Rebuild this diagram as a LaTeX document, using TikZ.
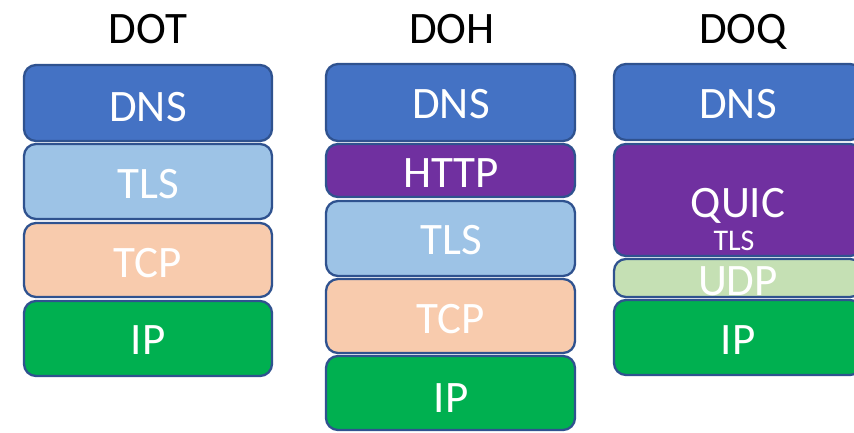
\documentclass[tikz,border=0pt]{standalone}
\usepackage{fontspec}
\setmainfont{Carlito}
\definecolor{edge}{HTML}{2F528F}
\definecolor{dnsfill}{HTML}{4472C4}
\definecolor{tlsfill}{HTML}{9DC3E6}
\definecolor{tcpfill}{HTML}{F8CBAD}
\definecolor{ipfill}{HTML}{00B050}
\definecolor{httpfill}{HTML}{7030A0}
\definecolor{udpfill}{HTML}{C5E0B4}
\begin{document}
\begin{tikzpicture}[x=1pt,y=-1pt,
  layer/.style={draw=edge, line width=2.3pt, rounded corners=12pt},
  lbl/.style={text=white, anchor=base, inner sep=0pt, font=\fontsize{45}{45}\selectfont},
  sublbl/.style={text=white, anchor=base, inner sep=0pt, font=\fontsize{30}{30}\selectfont},
  title/.style={text=black, anchor=base, inner sep=0pt, font=\fontsize{45}{45}\selectfont}]
\useasboundingbox (0,0) rectangle (854,432);
\clip (0,0) rectangle (854,432);

% column titles
\node[title] (t-dot) at (148,43) {DOT};
\node[title] (t-doh) at (452,43) {DOH};
\node[title] (t-doq) at (743,43) {DOQ};

% DNS over TLS stack
\path[layer, fill=dnsfill] (24,65) rectangle (272,141);
\path[layer, fill=tlsfill] (24,144) rectangle (272,219);
\path[layer, fill=tcpfill] (24,223) rectangle (272,297);
\path[layer, fill=ipfill]  (24,301) rectangle (272,376);
\node[lbl] (dot-dns) at (148,121) {DNS};
\node[lbl] (dot-tls) at (148,198) {TLS};
\node[lbl] (dot-tcp) at (148,277) {TCP};
\node[lbl] (dot-ip)  at (148,354) {IP};

% DNS over HTTPS stack
\path[layer, fill=dnsfill]  (326,64) rectangle (575,141);
\path[layer, fill=httpfill] (326,144) rectangle (575,197);
\path[layer, fill=tlsfill]  (326,201) rectangle (575,276);
\path[layer, fill=tcpfill]  (326,279) rectangle (575,353);
\path[layer, fill=ipfill]   (326,356) rectangle (575,430);
\node[lbl] (doh-dns)  at (451,118) {DNS};
\node[lbl] (doh-http) at (451,187) {HTTP};
\node[lbl] (doh-tls)  at (451,254) {TLS};
\node[lbl] (doh-tcp)  at (451,333) {TCP};
\node[lbl] (doh-ip)   at (451,412) {IP};

% DNS over QUIC stack
\path[layer, fill=dnsfill]  (614,64) rectangle (862,140);
\path[layer, fill=httpfill] (614,144) rectangle (862,256);
\path[layer, fill=udpfill]  (614,259) rectangle (862,297);
\path[layer, fill=ipfill]   (614,300) rectangle (862,375);
\node[lbl] (doq-dns)  at (738,118) {DNS};
\node[lbl] (doq-quic) at (738,217) {QUIC};
\node[sublbl] (doq-tls) at (734,250) {TLS};
\node[lbl] (doq-udp)  at (738,295) {UDP};
\node[lbl] (doq-ip)   at (738,354) {IP};
\end{tikzpicture}
\end{document}
